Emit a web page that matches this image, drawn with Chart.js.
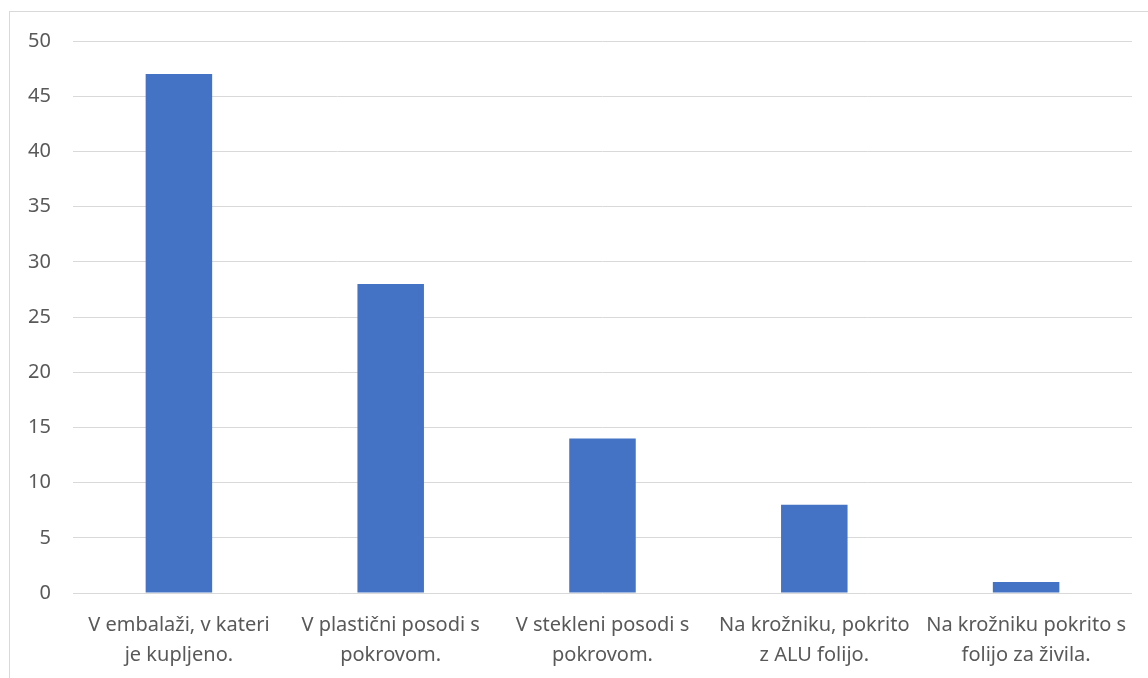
<!DOCTYPE html>
<html>
<head>
<meta charset="utf-8">
<script src="https://cdn.jsdelivr.net/npm/chart.js@4"></script>
<style>
  html, body { margin: 0; padding: 0; background: #fff; }
  #wrap { width: 1148px; height: 678px; }
</style>
</head>
<body>
<div id="wrap"><canvas id="myChart" width="1148" height="678"></canvas></div>
<script>
const categories = [
  ['V embalaži, v kateri', 'je kupljeno.'],
  ['V plastični posodi s', 'pokrovom.'],
  ['V stekleni posodi s', 'pokrovom.'],
  ['Na krožniku, pokrito', 'z ALU folijo.'],
  ['Na krožniku pokrito s', 'folijo za živila.']
];
const counts = [47, 28, 14, 8, 1];

// light frame around the chart area, like the office export
const frame = {
  id: 'frame',
  beforeDraw(chart) {
    const ctx = chart.ctx;
    ctx.save();
    ctx.strokeStyle = '#d9d9d9';
    ctx.lineWidth = 1;
    ctx.strokeRect(9.5, 11.5, chart.width + 20, chart.height + 20);
    ctx.restore();
  }
};

const ctx = document.getElementById('myChart');
new Chart(ctx, {
  type: 'bar',
  data: {
    labels: categories,
    datasets: [{
      data: counts,
      backgroundColor: '#4472c4',
      categoryPercentage: 1,
      barPercentage: 0.314
    }]
  },
  options: {
    responsive: false,
    animation: false,
    devicePixelRatio: 1,
    layout: { padding: { top: 41, right: 16, bottom: 0, left: 0 } },
    plugins: { legend: { display: false }, tooltip: { enabled: false } },
    scales: {
      x: {
        grid: { display: false },
        border: { display: false },
        afterFit(scale) { scale.height = 85; },
        ticks: {
          color: '#595959',
          font: { family: 'Noto Sans', size: 20, lineHeight: 1.5 },
          maxRotation: 0,
          autoSkip: false,
          padding: 9
        }
      },
      y: {
        min: 0,
        max: 50,
        afterFit(scale) { scale.width = 73; },
        grid: { color: '#d9d9d9', lineWidth: 1, drawTicks: false },
        border: { display: false },
        ticks: {
          stepSize: 5,
          color: '#595959',
          font: { family: 'Noto Sans', size: 20 },
          padding: 22
        }
      }
    }
  },
  plugins: [frame]
});
</script>
</body>
</html>
